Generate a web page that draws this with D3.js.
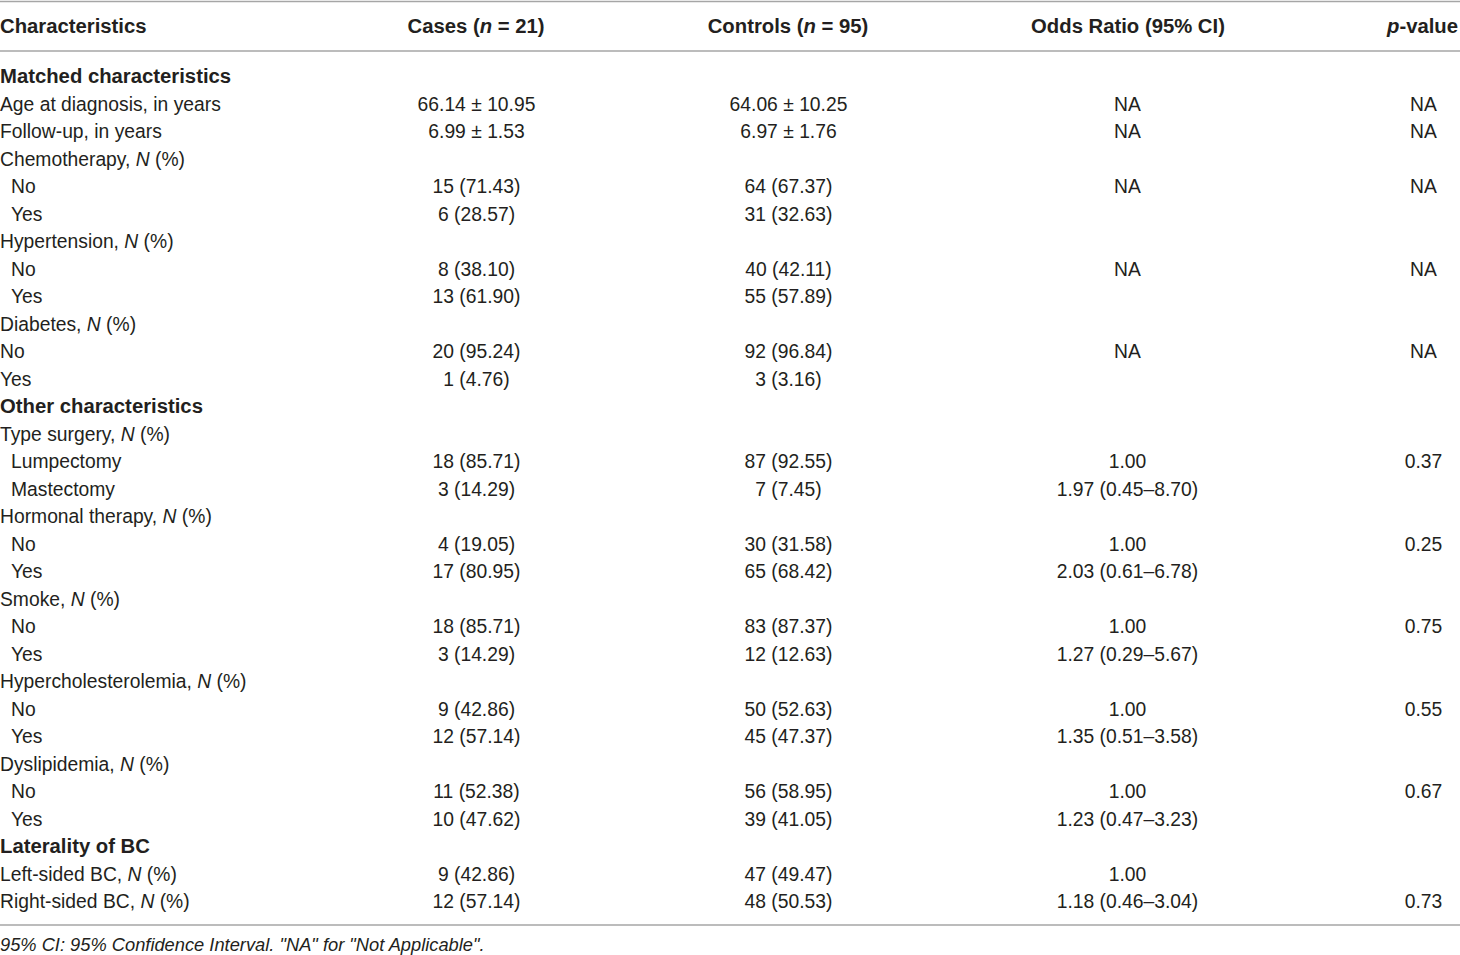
<!DOCTYPE html>
<html><head><meta charset="utf-8">
<script src="https://cdn.jsdelivr.net/npm/d3@7"></script>
<style>
html,body{margin:0;padding:0;background:#fff;}
svg{display:block;}
</style></head>
<body>
<svg id="chart" width="1460" height="955"></svg>
<script>
// ---------- DATA ----------
const headers = ["Characteristics", "Cases (*n* = 21)", "Controls (*n* = 95)", "Odds Ratio (95% CI)", "*p*-value"];
const rowTypes = ["section","item","item","group","sub","sub","group","sub","sub","group","item","item",
  "section","group","sub","sub","group","sub","sub","group","sub","sub","group","sub","sub","group","sub","sub",
  "section","item","item"];
const labels = ["Matched characteristics","Age at diagnosis, in years","Follow-up, in years","Chemotherapy, *N* (%)","No","Yes",
  "Hypertension, *N* (%)","No","Yes","Diabetes, *N* (%)","No","Yes",
  "Other characteristics","Type surgery, *N* (%)","Lumpectomy","Mastectomy","Hormonal therapy, *N* (%)","No","Yes",
  "Smoke, *N* (%)","No","Yes","Hypercholesterolemia, *N* (%)","No","Yes","Dyslipidemia, *N* (%)","No","Yes",
  "Laterality of BC","Left-sided BC, *N* (%)","Right-sided BC, *N* (%)"];
const cases = ["","66.14 ± 10.95","6.99 ± 1.53","","15 (71.43)","6 (28.57)","","8 (38.10)","13 (61.90)","","20 (95.24)","1 (4.76)",
  "","","18 (85.71)","3 (14.29)","","4 (19.05)","17 (80.95)","","18 (85.71)","3 (14.29)","","9 (42.86)","12 (57.14)","","11 (52.38)","10 (47.62)",
  "","9 (42.86)","12 (57.14)"];
const controls = ["","64.06 ± 10.25","6.97 ± 1.76","","64 (67.37)","31 (32.63)","","40 (42.11)","55 (57.89)","","92 (96.84)","3 (3.16)",
  "","","87 (92.55)","7 (7.45)","","30 (31.58)","65 (68.42)","","83 (87.37)","12 (12.63)","","50 (52.63)","45 (47.37)","","56 (58.95)","39 (41.05)",
  "","47 (49.47)","48 (50.53)"];
const oddsRatios = ["","NA","NA","","NA","","","NA","","","NA","",
  "","","1.00","1.97 (0.45–8.70)","","1.00","2.03 (0.61–6.78)","","1.00","1.27 (0.29–5.67)","","1.00","1.35 (0.51–3.58)","","1.00","1.23 (0.47–3.23)",
  "","1.00","1.18 (0.46–3.04)"];
const pValues = ["","NA","NA","","NA","","","NA","","","NA","",
  "","","0.37","","","0.25","","","0.75","","","0.55","","","0.67","",
  "","","0.73"];
const footnote = "95% CI: 95% Confidence Interval. \"NA\" for \"Not Applicable\".";

// ---------- LAYOUT ----------
const W = 1460, H = 955;
const svg = d3.select("#chart");
const textColor = "#231f20", lineColor = "#a6a6a6";
const fontFamily = "'Liberation Sans', Arial, Helvetica, sans-serif";
const fs = 19.3, fsBold = 20.3;

const colKeys = ["label","cases","controls","or","p"];
const colX = d3.scaleOrdinal().domain(colKeys).range([0, 476.5, 788.5, 1127.5, 1423.5]);
const headX = d3.scaleOrdinal().domain(colKeys).range([0, 476, 788, 1128, 1422.5]);
const colAnchor = d3.scaleOrdinal().domain(colKeys).range(["start","middle","middle","middle","middle"]);

const y = d3.scaleLinear().domain([0, labels.length - 1]).range([83.3, 908.3]);
const headerY = 33.3;

function addRich(sel, str) {
  const parts = str.split("*");
  parts.forEach((p, i) => {
    if (!p) return;
    sel.append("tspan").attr("font-style", i % 2 ? "italic" : null).text(p);
  });
}

// rules
const rules = [1.5, 51, 925];
svg.selectAll("line.rule").data(rules).join("line").attr("class","rule")
  .attr("x1", 0).attr("x2", W).attr("y1", d => d).attr("y2", d => d)
  .attr("stroke", lineColor).attr("stroke-width", 1.6);

// header
svg.selectAll("text.hdr").data(headers).join("text").attr("class","hdr")
  .attr("x", (d,i) => headX(colKeys[i]))
  .attr("y", headerY)
  .attr("text-anchor", (d,i) => colAnchor(colKeys[i]))
  .attr("font-family", fontFamily).attr("font-size", fsBold).attr("font-weight","bold")
  .attr("fill", textColor)
  .each(function(d){ addRich(d3.select(this), d); });

// body rows
const rows = labels.map((l, i) => ({i, type: rowTypes[i], label: l, cases: cases[i], controls: controls[i], or: oddsRatios[i], p: pValues[i]}));
const g = svg.selectAll("g.row").data(rows).join("g").attr("class","row")
  .attr("transform", d => `translate(0,${y(d.i)})`);

g.append("text")
  .attr("x", d => colX("label") + (d.type === "sub" ? 11 : 0))
  .attr("font-family", fontFamily)
  .attr("font-size", d => d.type === "section" ? fsBold : fs)
  .attr("font-weight", d => d.type === "section" ? "bold" : null)
  .attr("fill", textColor)
  .each(function(d){ addRich(d3.select(this), d.label); });

["cases","controls","or","p"].forEach(k => {
  g.filter(d => d[k]).append("text")
    .attr("x", colX(k)).attr("text-anchor", colAnchor(k))
    .attr("font-family", fontFamily).attr("font-size", fs)
    .attr("fill", textColor)
    .text(d => d[k]);
});

// footnote
svg.append("text").attr("x", 0).attr("y", 950.5)
  .attr("font-family", fontFamily).attr("font-size", 18.3).attr("font-style","italic")
  .attr("fill", textColor).text(footnote);
</script>
</body></html>
